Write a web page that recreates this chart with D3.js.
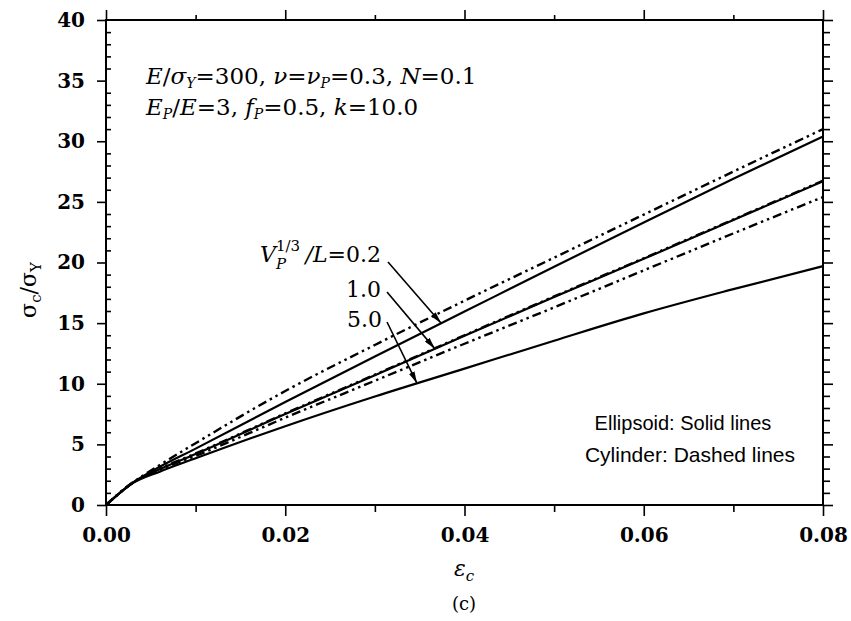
<!DOCTYPE html>
<html>
<head>
<meta charset="utf-8">
<script src="https://cdn.jsdelivr.net/npm/d3@7"></script>
<style>
  body { margin: 0; background: #fff; }
  svg { display: block; }
</style>
</head>
<body>
<svg id="chart" width="851" height="621"></svg>
<script>
// Composite compressive response: normalized stress vs. strain
const strain        = [0, 0.003, 0.006, 0.01, 0.02, 0.03, 0.04, 0.05, 0.06, 0.07, 0.08];
const ellipsoid02   = [0, 1.85, 3.15, 4.65, 8.5, 12.25, 15.95, 19.65, 23.3, 26.9, 30.4];
const cylinder02    = [0, 1.85, 3.3, 5.1, 9.4, 13.2, 16.85, 20.4, 23.95, 27.5, 31.0];
const ellipsoid10   = [0, 1.85, 2.95, 4.2, 7.5, 10.7, 13.95, 17.15, 20.3, 23.5, 26.7];
const cylinder10    = [0, 1.85, 3.0, 4.25, 7.55, 10.75, 14.0, 17.2, 20.35, 23.55, 26.75];
const ellipsoid50   = [0, 1.8, 2.75, 3.85, 6.5, 8.95, 11.25, 13.55, 15.8, 17.8, 19.7];
const cylinder50    = [0, 1.85, 2.9, 4.05, 7.2, 10.25, 13.3, 16.3, 19.35, 22.4, 25.4];

const xMajorTicks = [0, 0.02, 0.04, 0.06, 0.08];
const xMinorTicks = [0.01, 0.03, 0.05, 0.07];
const yMajorTicks = [0, 5, 10, 15, 20, 25, 30, 35, 40];
const yMinorTicks = d3.range(0, 41).filter(v => v % 5 !== 0);

// aspect ratios pointed at by the callouts, with the strain where each arrow lands
const calloutRatios = ["0.2", "1.0", "5.0"];
const calloutStrain = [0.0374, 0.0367, 0.0347];

const series = [
  { key: "ell-0.2", values: ellipsoid02, dashed: false },
  { key: "cyl-0.2", values: cylinder02,  dashed: true  },
  { key: "ell-1.0", values: ellipsoid10, dashed: false },
  { key: "cyl-1.0", values: cylinder10,  dashed: true  },
  { key: "ell-5.0", values: ellipsoid50, dashed: false },
  { key: "cyl-5.0", values: cylinder50,  dashed: true  }
];
const calloutSeries = [ellipsoid02, ellipsoid10, ellipsoid50];

const svg = d3.select("#chart");
const plotL = 106, plotR = 823, plotT = 20, plotB = 505;

const x = d3.scaleLinear().domain([0, 0.08]).range([plotL, plotR]);
const y = d3.scaleLinear().domain([0, 40]).range([plotB, plotT]);

const serif = "'DejaVu Serif', serif";

// ---- axes -------------------------------------------------------------
function styleAxis(g) {
  g.select(".domain").remove();
  g.selectAll(".tick line").attr("stroke", "#000").attr("stroke-width", 1.6);
}

// bottom: labelled majors, plus minors, both pointing out
svg.append("g").attr("transform", `translate(0,${plotB})`)
  .call(d3.axisBottom(x).tickValues(xMajorTicks).tickSize(11).tickPadding(12)
        .tickFormat(d3.format(".2f")))
  .call(styleAxis)
  .call(g => g.selectAll("text").attr("font-family", serif).attr("font-weight", "bold")
              .attr("font-size", 20).attr("fill", "#000"));
svg.append("g").attr("transform", `translate(0,${plotB})`)
  .call(d3.axisBottom(x).tickValues(xMinorTicks).tickSize(7).tickFormat(""))
  .call(styleAxis);

// top
svg.append("g").attr("transform", `translate(0,${plotT})`)
  .call(d3.axisTop(x).tickValues(xMajorTicks).tickSize(10).tickFormat(""))
  .call(styleAxis);
svg.append("g").attr("transform", `translate(0,${plotT})`)
  .call(d3.axisTop(x).tickValues(xMinorTicks).tickSize(5).tickFormat(""))
  .call(styleAxis);

// left: labelled majors out, minors in
svg.append("g").attr("transform", `translate(${plotL},0)`)
  .call(d3.axisLeft(y).tickValues(yMajorTicks).tickSize(9).tickPadding(12)
        .tickFormat(d3.format("d")))
  .call(styleAxis)
  .call(g => g.selectAll("text").attr("font-family", serif).attr("font-weight", "bold")
              .attr("font-size", 20).attr("fill", "#000"));
svg.append("g").attr("transform", `translate(${plotL},0)`)
  .call(d3.axisLeft(y).tickValues(yMinorTicks).tickSize(-5).tickFormat(""))
  .call(styleAxis);

// right
svg.append("g").attr("transform", `translate(${plotR},0)`)
  .call(d3.axisRight(y).tickValues(yMajorTicks).tickSize(10).tickFormat(""))
  .call(styleAxis);
svg.append("g").attr("transform", `translate(${plotR},0)`)
  .call(d3.axisRight(y).tickValues(yMinorTicks).tickSize(7).tickFormat(""))
  .call(styleAxis);

// frame
svg.append("rect")
  .attr("x", plotL).attr("y", plotT)
  .attr("width", plotR - plotL).attr("height", plotB - plotT)
  .attr("fill", "none").attr("stroke", "#000").attr("stroke-width", 2);

// ---- curves -----------------------------------------------------------
const line = d3.line()
  .x((d, i) => x(strain[i]))
  .y(d => y(d))
  .curve(d3.curveMonotoneX);

svg.append("g").selectAll("path")
  .data(series)
  .join("path")
  .attr("d", d => line(d.values))
  .attr("fill", "none")
  .attr("stroke", "#000")
  .attr("stroke-width", d => d.dashed ? 2.4 : 2.2)
  .attr("stroke-dasharray", d => d.dashed ? "9,4,2.5,4,2.5,4" : null);

// ---- callouts ---------------------------------------------------------
svg.append("defs").append("marker")
  .attr("id", "arrowhead")
  .attr("viewBox", "0 0 12 6")
  .attr("refX", 12).attr("refY", 3)
  .attr("markerWidth", 12).attr("markerHeight", 6)
  .attr("markerUnits", "userSpaceOnUse")
  .attr("orient", "auto")
  .append("path").attr("d", "M0,0 L12,3 L0,6 Z").attr("fill", "#000");

function valueAt(values, e) {
  const i = d3.bisectRight(strain, e) - 1;
  const t = (e - strain[i]) / (strain[i + 1] - strain[i]);
  return values[i] + t * (values[i + 1] - values[i]);
}

const labelAnchors = [[381, 262], [381, 297], [382, 327]];
const arrowStarts  = [[388, 262], [387, 292], [387, 322]];

const callouts = svg.append("g")
  .attr("font-family", serif).attr("font-size", 22).attr("fill", "#000");

// V_P^{1/3}/L=0.2 : sub- and superscript stacked after the V
const [l0x, l0y] = labelAnchors[0];
const tail = callouts.append("text").attr("x", l0x).attr("y", l0y).attr("text-anchor", "end");
tail.append("tspan").attr("font-style", "italic").text("/L");
tail.append("tspan").text("=" + calloutRatios[0]);
const vx = l0x - 105;
callouts.append("text").attr("x", vx).attr("y", l0y).attr("text-anchor", "end")
  .attr("font-style", "italic").text("V");
callouts.append("text").attr("x", vx).attr("y", l0y + 7)
  .attr("font-style", "italic").attr("font-size", 15).text("P");
callouts.append("text").attr("x", vx).attr("y", l0y - 11)
  .attr("font-size", 15).text("1/3");

calloutRatios.forEach((r, k) => {
  if (k > 0) {
    const [lx, ly] = labelAnchors[k];
    callouts.append("text").attr("x", lx).attr("y", ly)
      .attr("text-anchor", "end").text(r);
  }
  const [sx, sy] = arrowStarts[k];
  const e = calloutStrain[k];
  callouts.append("line")
    .attr("x1", sx).attr("y1", sy)
    .attr("x2", x(e)).attr("y2", y(valueAt(calloutSeries[k], e)))
    .attr("stroke", "#000").attr("stroke-width", 1.6)
    .attr("marker-end", "url(#arrowhead)");
});

// ---- parameter block --------------------------------------------------
const params = svg.append("g")
  .attr("font-family", serif).attr("font-size", 23).attr("fill", "#000");

const p1 = params.append("text").attr("x", 146).attr("y", 84);
p1.append("tspan").attr("font-style", "italic").text("E");
p1.append("tspan").text("/");
p1.append("tspan").attr("font-style", "italic").text("σ");
p1.append("tspan").attr("font-style", "italic").attr("font-size", 14).attr("dy", 4).text("Y");
p1.append("tspan").attr("dy", -4).text("=300, ");
p1.append("tspan").attr("font-style", "italic").text("ν");
p1.append("tspan").text("=");
p1.append("tspan").attr("font-style", "italic").text("ν");
p1.append("tspan").attr("font-style", "italic").attr("font-size", 14).attr("dy", 4).text("P");
p1.append("tspan").attr("dy", -4).text("=0.3, ");
p1.append("tspan").attr("font-style", "italic").text("N");
p1.append("tspan").text("=0.1");

const p2 = params.append("text").attr("x", 146).attr("y", 115);
p2.append("tspan").attr("font-style", "italic").text("E");
p2.append("tspan").attr("font-style", "italic").attr("font-size", 14).attr("dy", 4).text("P");
p2.append("tspan").attr("dy", -4).text("/");
p2.append("tspan").attr("font-style", "italic").text("E");
p2.append("tspan").text("=3, ");
p2.append("tspan").attr("font-style", "italic").text("f");
p2.append("tspan").attr("font-style", "italic").attr("font-size", 14).attr("dy", 4).text("P");
p2.append("tspan").attr("dy", -4).text("=0.5, ");
p2.append("tspan").attr("font-style", "italic").text("k");
p2.append("tspan").text("=10.0");

// ---- legend note ------------------------------------------------------
const note = svg.append("g")
  .attr("font-family", "'Liberation Sans', Arial, sans-serif")
  .attr("font-size", 20).attr("fill", "#000").attr("text-anchor", "middle");
note.append("text").attr("x", 683).attr("y", 430).text("Ellipsoid: Solid lines");
note.append("text").attr("x", 690).attr("y", 462).attr("font-size", 21).text("Cylinder: Dashed lines");

// ---- axis titles ------------------------------------------------------
const xt = svg.append("text").attr("x", 464).attr("y", 576)
  .attr("text-anchor", "middle").attr("font-family", serif).attr("font-size", 22);
xt.append("tspan").attr("font-style", "italic").text("ε");
xt.append("tspan").attr("font-style", "italic").attr("font-size", 15).attr("dy", 5).text("c");

const yt = svg.append("text")
  .attr("transform", "translate(36,290) rotate(-90)")
  .attr("text-anchor", "middle").attr("font-family", serif).attr("font-size", 22);
yt.append("tspan").text("σ");
yt.append("tspan").attr("font-size", 15).attr("dy", 5).text("c");
yt.append("tspan").attr("dy", -5).text("/σ");
yt.append("tspan").attr("font-size", 15).attr("dy", 5).text("Y");

svg.append("text").attr("x", 464).attr("y", 610)
  .attr("text-anchor", "middle").attr("font-family", serif).attr("font-size", 18)
  .text("(c)");
</script>
</body>
</html>
